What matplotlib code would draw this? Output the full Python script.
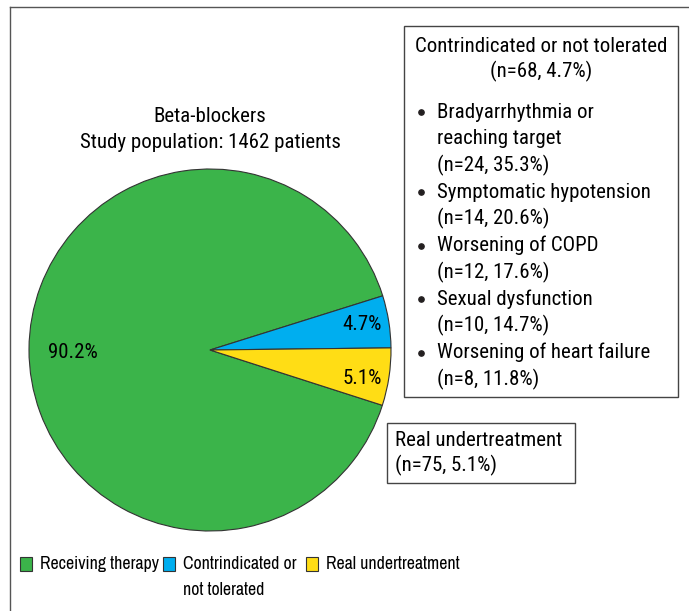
import matplotlib
matplotlib.use('Agg')
import matplotlib.pyplot as plt
from matplotlib import font_manager
from matplotlib.patches import Rectangle

# 数据
labels = ['Receiving therapy', 'Contrindicated or\nnot tolerated', 'Real undertreatment']
counts = [1319, 68, 75]
pct_labels = ['90.2%', '4.7%', '5.1%']
colors = ['#3bb44a', '#00aeef', '#ffdd15']

reasons = ['Bradyarrhythmia or\nreaching target', 'Symptomatic hypotension', 'Worsening of COPD',
           'Sexual dysfunction', 'Worsening of heart failure']
reason_n = [24, 14, 12, 10, 8]
reason_pct = [35.3, 20.6, 17.6, 14.7, 11.8]

# 窄体字体
names = set(f.name for f in font_manager.fontManager.ttflist)
family = [n for n in ['Roboto Condensed', 'Barlow Semi Condensed', 'Archivo Narrow'] if n in names][:1]
leg_family = [n for n in ['Archivo Narrow', 'Roboto Condensed'] if n in names][:1]

plt.rcParams['font.family'] = family + ['DejaVu Sans']
plt.rcParams['font.size'] = 13
W, H = 689, 611

fig = plt.figure(figsize=(W / 100, H / 100), dpi=100)
ax = fig.add_axes([0, 0, 1, 1])

# 按参考图宽度调整字号
t = ax.text(0, 0, 'Contrindicated or not tolerated')
t2 = ax.text(0, 0, 'Real undertreatment', family=leg_family + ['DejaVu Sans'])
fig.canvas.draw()
fs = 13 * 252 / t.get_window_extent().width
fs_leg = 13 * 134 / t2.get_window_extent().width
t.remove()
t2.remove()
plt.rcParams['font.size'] = fs

# 外框（上边和左边）
ax.plot([10, W], [H - 7, H - 7], color='#555555', lw=1)
ax.plot([10, 10], [H - 7, 0], color='#555555', lw=1)

# 饼图
cx, cy, r = 210, H - 350, 181
ax.pie(counts, colors=colors, center=(cx, cy), radius=r,
       startangle=-17.8, counterclock=False,
       wedgeprops=dict(edgecolor='#333333', linewidth=0.8))
ax.set_xlim(0, W)
ax.set_ylim(0, H)
ax.set_aspect('equal')
ax.axis('off')

ax.text(48, H - 352, pct_labels[0], ha='left', va='center')
ax.text(382, H - 325, pct_labels[1], ha='right', va='center')
ax.text(382, H - 378, pct_labels[2], ha='right', va='center')

ax.text(210, H - 117, 'Beta-blockers', ha='center', va='center')
ax.text(210, H - 143, 'Study population: %d patients' % sum(counts), ha='center', va='center')

# 禁忌或不耐受框
ax.add_patch(Rectangle((404, H - 397), 274, 371, fill=False, edgecolor='#444444', lw=1))
ax.text(541, H - 46, 'Contrindicated or not tolerated', ha='center', va='center')
ax.text(541, H - 71, '(n=%d, %.1f%%)' % (counts[1], 4.7), ha='center', va='center')
y = H - 112
for name, n, p in zip(reasons, reason_n, reason_pct):
    ax.plot(421, y, 'o', color='#231f20', ms=3.8)
    lines = name.split('\n') + ['(n=%d, %.1f%%)' % (n, p)]
    for line in lines:
        ax.text(437, y, line, ha='left', va='center')
        y -= 26.5
    y -= 0.5

# 真正治疗不足框
ax.add_patch(Rectangle((387, H - 483), 188, 60, fill=False, edgecolor='#444444', lw=1))
ax.text(395, H - 440, 'Real undertreatment', ha='left', va='center')
ax.text(395, H - 465, '(n=%d, %.1f%%)' % (counts[2], 5.1), ha='left', va='center')

# 图例
leg_x = [20, 163, 306]
for x0, lab, c in zip(leg_x, labels, colors):
    ax.add_patch(Rectangle((x0, H - 571), 12, 14, facecolor=c, edgecolor='#333333', lw=0.8))
    for k, part in enumerate(lab.split('\n')):
        ax.text(x0 + 20, H - 564 - 26 * k, part, ha='left', va='center',
                fontsize=fs_leg, family=leg_family + ['DejaVu Sans'])

fig.savefig('out.png', dpi=100)
